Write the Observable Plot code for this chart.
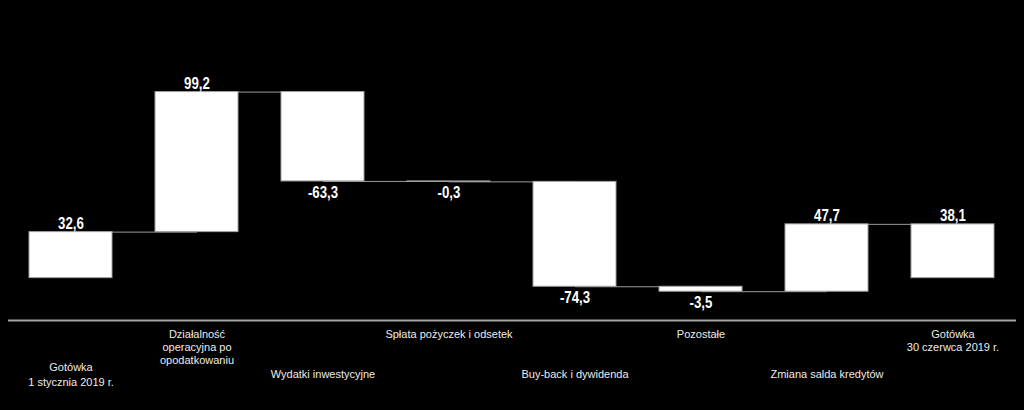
<!DOCTYPE html>
<html>
<head>
<meta charset="utf-8">
<script src="https://cdn.jsdelivr.net/npm/d3@7"></script>
<script src="https://cdn.jsdelivr.net/npm/@observablehq/plot@0.6"></script>
<style>
  html, body { margin: 0; padding: 0; background: #000; }
  #chart { width: 1024px; height: 410px; }
</style>
</head>
<body>
<div id="chart"></div>
<script>
// ---- data ----
const categories = [
  "Gotówka\n1 stycznia 2019 r.",
  "Działalność\noperacyjna po\nopodatkowaniu",
  "Wydatki inwestycyjne",
  "Spłata pożyczek i odsetek",
  "Buy-back i dywidenda",
  "Pozostałe",
  "Zmiana salda kredytów",
  "Gotówka\n30 czerwca 2019 r."
];
const values = [32.6, 99.2, -63.3, -0.3, -74.3, -3.5, 47.7, 38.1];
const kinds = ["total", "delta", "delta", "delta", "delta", "delta", "delta", "total"];
const valueLabels = ["32,6", "99,2", "-63,3", "-0,3", "-74,3", "-3,5", "47,7", "38,1"];
const yDomain = [-30, 140];

// ---- build waterfall table ----
let running = 0;
const rows = categories.map((c, i) => {
  let y1, y2;
  if (kinds[i] === "total") { y1 = 0; y2 = values[i]; running = values[i]; }
  else { y1 = running; y2 = running + values[i]; running = y2; }
  return { cat: c, i, v: values[i], y1, y2, label: valueLabels[i], lower: i % 2 === 0 };
});
const links = rows.slice(0, -1).map((r, i) => ({ a: r.cat, b: rows[i + 1].cat, y: r.y2 }));

const numFont = '"Liberation Sans", Arial, sans-serif';
const catFont = '"Liberation Sans", Arial, sans-serif';

const chart = Plot.plot({
  width: 1024,
  height: 410,
  marginLeft: 8,
  marginRight: 8,
  marginTop: 80,
  marginBottom: 90,
  style: { background: "#000", color: "#fff" },
  x: { domain: categories, paddingInner: 0.34, paddingOuter: 0.17, axis: null },
  y: { domain: yDomain, axis: null },
  marks: [
    Plot.link(links, { x1: "a", x2: "b", y1: "y", y2: "y", stroke: "#9a9a9a", strokeWidth: 1 }),
    Plot.barY(rows, { x: "cat", y1: "y1", y2: "y2", fill: "#fff", stroke: "#a0a0a0", strokeWidth: 1 }),
    Plot.ruleY([yDomain[0]], { stroke: "#a6a6a6", strokeWidth: 2 }),
    // value labels
    Plot.text(rows.filter(d => d.v >= 0), {
      x: "cat", y: "y2", text: "label", lineAnchor: "bottom", dy: -3, className: "vlab",
      fill: "#fff", fontSize: 17, fontWeight: "bold", fontFamily: numFont
    }),
    Plot.text(rows.filter(d => d.v < 0), {
      x: "cat", y: "y2", text: "label", lineAnchor: "top", dy: 4, className: "vlab",
      fill: "#fff", fontSize: 17, fontWeight: "bold", fontFamily: numFont
    }),
    // category labels (staggered)
    Plot.text(rows.filter(d => !d.lower), {
      x: "cat", frameAnchor: "bottom", text: "cat", lineAnchor: "top", dy: 9,
      lineHeight: 1.15, fill: "#ececec", fontSize: 11, fontFamily: catFont
    }),
    Plot.text(rows.filter(d => d.lower), {
      x: "cat", frameAnchor: "bottom", text: "cat", lineAnchor: "middle", dy: 53,
      lineHeight: 1.35, fill: "#ececec", fontSize: 11, fontFamily: catFont
    })
  ]
});
// condensed look for value labels
d3.select(chart).selectAll(".vlab text").each(function () {
  const t = this.getAttribute("transform") || "";
  this.setAttribute("transform", t + " scale(0.78,1)");
});
document.getElementById("chart").appendChild(chart);
</script>
</body>
</html>
